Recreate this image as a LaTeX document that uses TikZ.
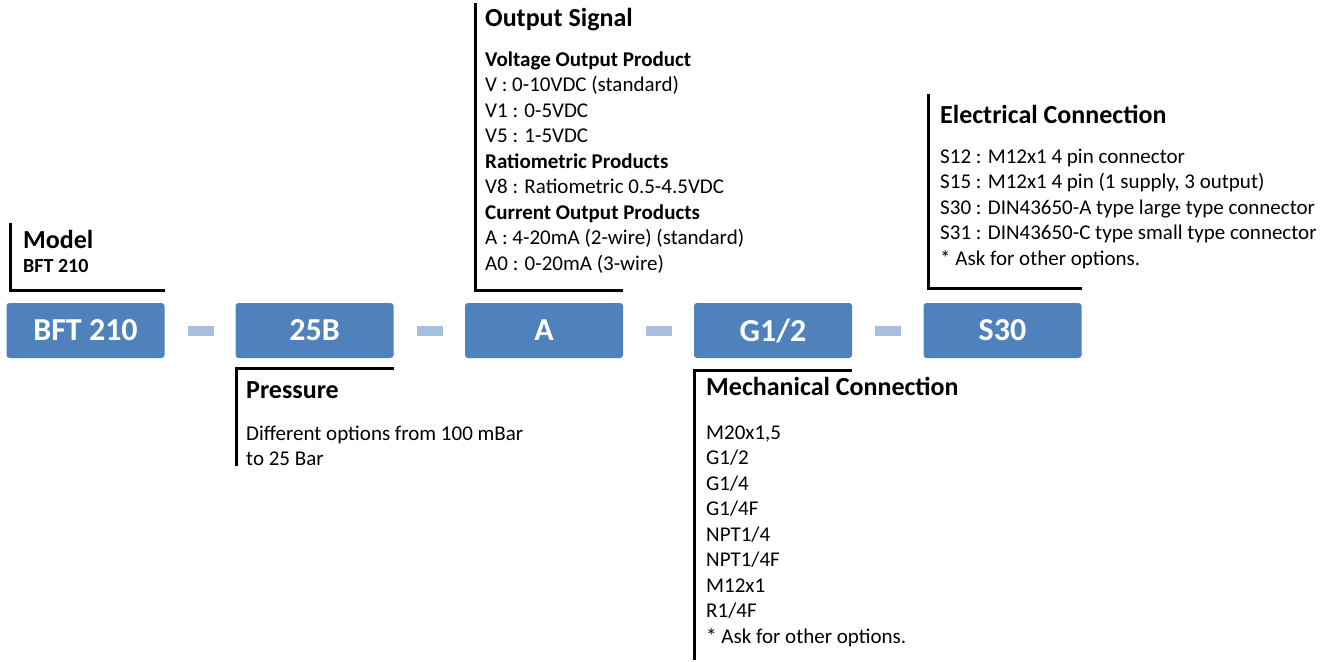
\documentclass[tikz,border=0pt]{standalone}
\usepackage{fontspec}
\setmainfont{Carlito}
\usepackage{tikz}
\usetikzlibrary{positioning}
\definecolor{partblue}{RGB}{79, 129, 189}
\definecolor{dashblue}{RGB}{167, 191, 222}

\begin{document}
\begin{tikzpicture}[x=1pt, y=-1pt,
    partbox/.style={fill=partblue, text=white, rounded corners=3pt, minimum width=158pt, minimum height=55pt, inner sep=0pt, font=\fontsize{32}{38}\selectfont\bfseries},
    dashbar/.style={fill=dashblue, minimum width=26pt, minimum height=10pt, inner sep=0pt},
    bracket/.style={line width=3pt, black},
    headtext/.style={anchor=base west, inner sep=0pt, font=\fontsize{26}{31}\selectfont\bfseries},
    bodytext/.style={anchor=base west, inner sep=0pt, align=left, font=\fontsize{21}{25.5}\selectfont}]
        \useasboundingbox (0,0) rectangle (1337,661);

        % Part code boxes
        \node[partbox] (bft) at (85.5,330.5) {BFT 210};
        \node[partbox] (pres) at (314.5,330.5) {25B};
        \node[partbox] (outp) at (544,330.5) {A};
        \node[partbox] (mech) at (773,330.5) {G1/2};
        \node[partbox] (elec) at (1002.5,330.5) {S30};
        \node[dashbar] (d1) at (201,331) {};
        \node[dashbar] (d2) at (430,331) {};
        \node[dashbar] (d3) at (659,331) {};
        \node[dashbar] (d4) at (888,331) {};

        % Model
        \coordinate (modtop) at (10,223);
        \draw[bracket] (modtop) |- ([yshift=12pt]bft.north east);
        \node[headtext] (modhead) at (23,248) {Model};
        \node[bodytext, font=\fontsize{20}{24}\selectfont\bfseries] (modbody) at (23,272) {BFT 210};

        % Output Signal (body placed by its last line)
        \coordinate (outtop) at (475,3);
        \draw[bracket] (outtop) |- ([yshift=12pt]outp.north east);
        \node[headtext] (outhead) at (485,27) {Output Signal};
        \node[bodytext] (outbody) at (485,270) {\textbf{Voltage Output Product}\\
            V : 0-10VDC (standard)\\
            V1 : 0-5VDC\\
            V5 : 1-5VDC\\
            \textbf{Ratiometric Products}\\
            V8 : Ratiometric 0.5-4.5VDC\\
            \textbf{Current Output Products}\\
            A : 4-20mA (2-wire) (standard)\\
            A0 : 0-20mA (3-wire)};

        % Electrical Connection
        \coordinate (eltop) at (928,94);
        \draw[bracket] (eltop) |- ([yshift=14pt]elec.north east);
        \node[headtext] (elhead) at (940,123) {Electrical Connection};
        \node[bodytext] (elbody) at (940,265) {S12 : M12x1 4 pin connector\\
            S15 : M12x1 4 pin (1 supply, 3 output)\\
            S30 : DIN43650-A type large type connector\\
            S31 : DIN43650-C type small type connector\\
            * Ask for other options.};

        % Pressure
        \coordinate (prbot) at (236,466);
        \draw[bracket] ([yshift=-10pt]pres.south east) -| (prbot);
        \node[headtext] (prhead) at (246,398) {Pressure};
        \node[bodytext] (prbody) at (246,465.5) {Different options from 100 mBar\\
            to 25 Bar};

        % Mechanical Connection
        \coordinate (mebot) at (694,660);
        \draw[bracket] ([yshift=-12pt]mech.south east) -| (mebot);
        \node[headtext] (mehead) at (706,395) {Mechanical Connection};
        \node[bodytext] (mebody) at (706,643) {M20x1,5\\
            G1/2\\
            G1/4\\
            G1/4F\\
            NPT1/4\\
            NPT1/4F\\
            M12x1\\
            R1/4F\\
            * Ask for other options.};
    \end{tikzpicture}
\end{document}
